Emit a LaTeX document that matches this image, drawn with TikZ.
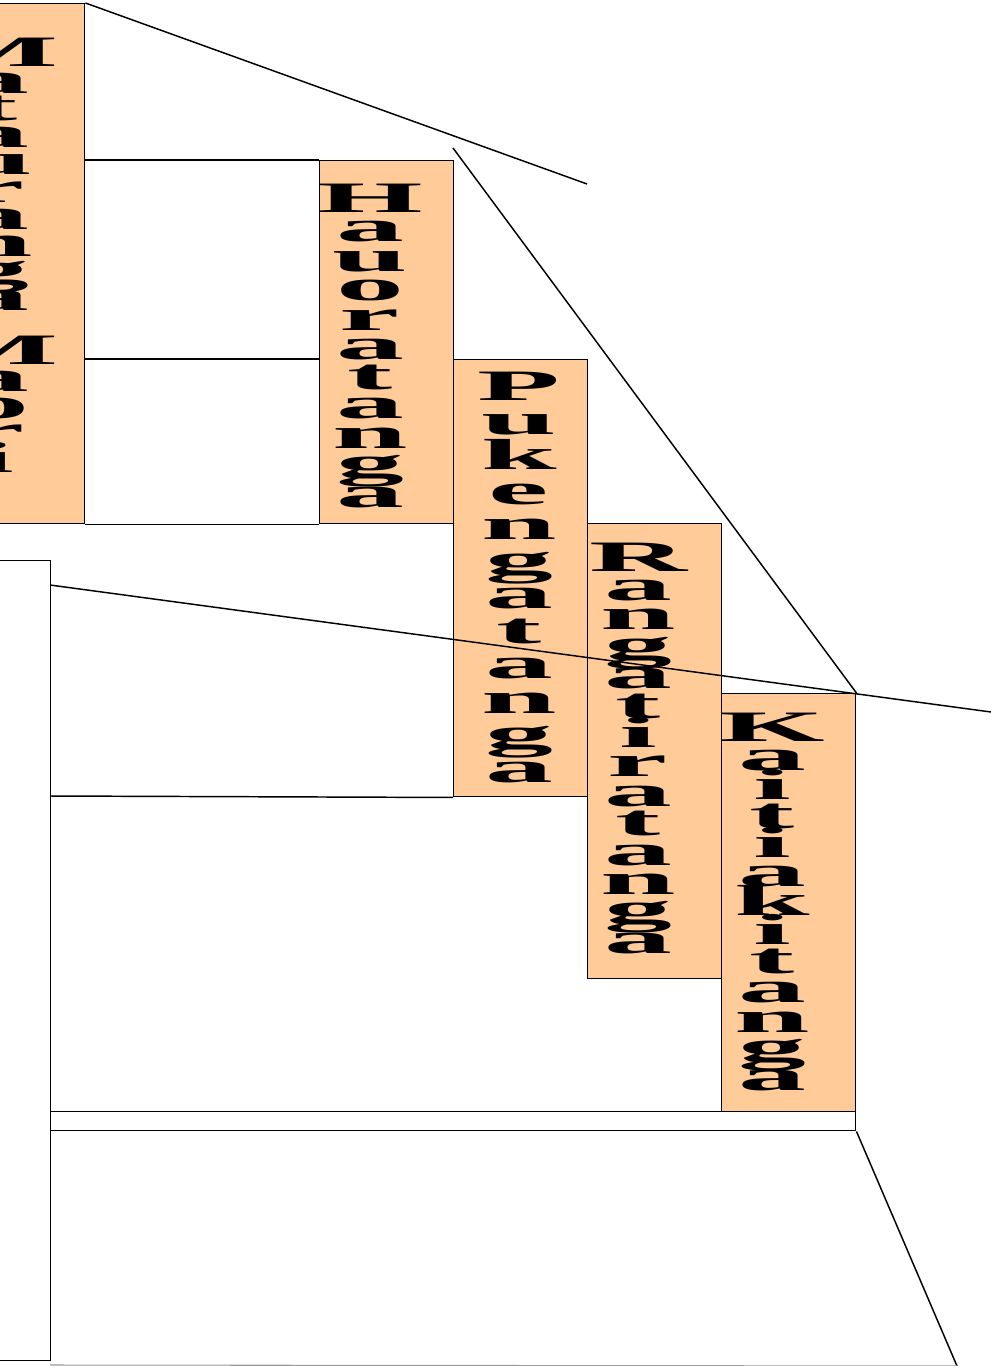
\documentclass[tikz,border=0pt]{standalone}
\usepackage{fontspec}
\setmainfont{Liberation Serif}
\usepackage{graphicx}
\newcommand{\sx}[1]{\scalebox{2.75}[0.88]{#1}}
\definecolor{peach}{HTML}{FFCC99}
\tikzset{
  box/.style={draw=black, line width=1.1pt, fill=peach, inner sep=0pt, anchor=north west},
  plainbox/.style={draw=black, line width=1.1pt, fill=white, inner sep=0pt, anchor=north west},
  conn/.style={draw=black, line width=1.1pt},
  glyph/.style={anchor=base, inner sep=0pt, font=\fontsize{37}{37}\selectfont\bfseries}
}
\begin{document}
\begin{tikzpicture}[x=0.75pt, y=-0.75pt]
\useasboundingbox (0,0) rectangle (991,1366);
\clip (0,0) rectangle (991,1366);
% boxes
\node[box, minimum width=134*0.75pt, minimum height=520*0.75pt] (A) at (-50,3) {};
\node[box, minimum width=134*0.75pt, minimum height=363*0.75pt] (H) at (319,160) {};
\node[box, minimum width=134*0.75pt, minimum height=437*0.75pt] (P) at (453,359) {};
\node[box, minimum width=134*0.75pt, minimum height=455*0.75pt] (R) at (587,523) {};
\node[box, minimum width=134*0.75pt, minimum height=418*0.75pt] (K) at (721,693) {};
\node[plainbox, minimum width=80*0.75pt, minimum height=800*0.75pt] (L) at (-30,560) {};
\node[plainbox, minimum width=805*0.75pt, minimum height=19*0.75pt] (S) at (50,1111) {};
% coordinates
\coordinate (a1) at (84,160);
\coordinate (a2) at (84,359);
\coordinate (hlt) at (319,359);
\coordinate (d1) at (587,184);
\coordinate (d2) at (453,148);
\coordinate (l1) at (50,585);
\coordinate (l2) at (50,796);
\coordinate (e1) at (991,712);
\coordinate (e2) at (957,1366);
\coordinate (g1) at (50,1365);
% letters
\foreach \c [count=\i from 0] in {M,a,t,a,u,r,a,n,g,a}
  \node[glyph] (ma\i) at (-5,67+\i*27) {\sx{\c}};
\foreach \c [count=\i from 0] in {M,a,o,r,i}
  \node[glyph] (mb\i) at (-5,364+\i*27) {\sx{\c}};
\foreach \c [count=\i from 0] in {H,a,u,o,r,a,t,a,n,g,a}
  \node[glyph] (h\i) at (370,212+\i*29.5) {\sx{\c}};
\foreach \c [count=\i from 0] in {P,u,k,e,n,g,a,t,a,n,g,a}
  \node[glyph] (p\i) at (519,400+\i*34.8) {\sx{\c}};
\foreach \c [count=\i from 0] in {R,a,n,g,a,t,i,r,a,t,a,n,g,a}
  \node[glyph] (r\i) at (638,571+\i*29.4) {\sx{\c}};
\foreach \c [count=\i from 0] in {K,a,i,t,i,a,k,i,t,a,n,g,a}
  \node[glyph] (k\i) at (772,741+\i*29.1) {\sx{\c}};
% connectors
\draw[conn] (A.north east) -- (d1);
\draw[conn] (a1) -- (H.north west);
\draw[conn] (a2) -- (hlt);
\draw[conn] (A.south east) -- (H.south west);
\draw[conn] (d2) -- (K.north east);
\draw[conn] (l1) -- (e1);
\draw[conn] (l2) -- (P.south west);
\draw[conn] (S.south east) -- (e2);
\draw[draw=black!40, line width=0.8pt] (g1) -- (e2);
\end{tikzpicture}
\end{document}
